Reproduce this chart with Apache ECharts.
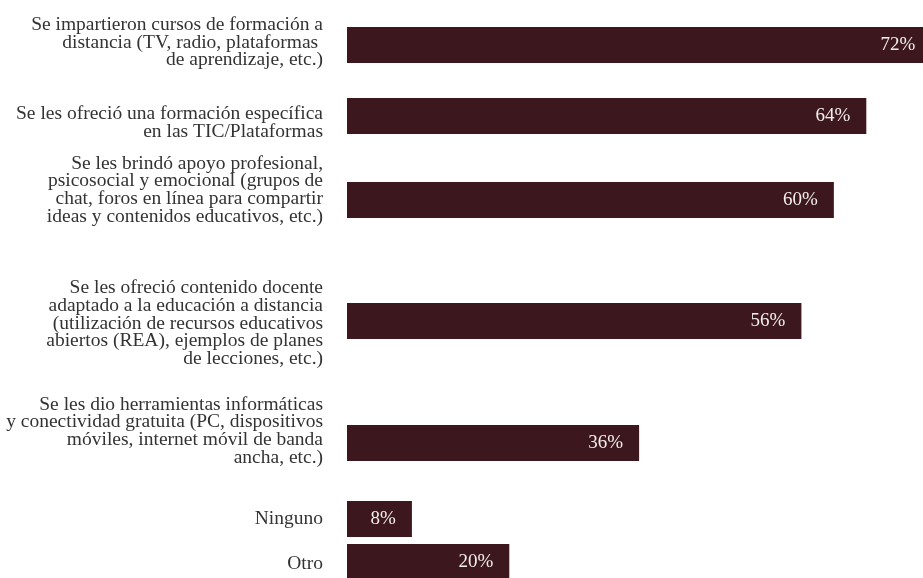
<!DOCTYPE html>
<html>
<head>
<meta charset="utf-8">
<script src="https://cdn.jsdelivr.net/npm/echarts@6/dist/echarts.min.js"></script>
<style>
  html, body { margin: 0; padding: 0; background: #fff; }
  #chart { width: 923px; height: 578px; }
</style>
</head>
<body>
<div id="chart"></div>
<script>
// Measures offered to teachers (share of responses, %)
const categories = [
  'Se impartieron cursos de formación a\ndistancia (TV, radio, plataformas \nde aprendizaje, etc.)',
  'Se les ofreció una formación específica\nen las TIC/Plataformas',
  'Se les brindó apoyo profesional,\npsicosocial y emocional (grupos de\nchat, foros en línea para compartir\nideas y contenidos educativos, etc.)',
  'Se les ofreció contenido docente\nadaptado a la educación a distancia\n(utilización de recursos educativos\nabiertos (REA), ejemplos de planes\nde lecciones, etc.)',
  'Se les dio herramientas informáticas\ny conectividad gratuita (PC, dispositivos\nmóviles, internet móvil de banda\nancha, etc.)',
  'Ninguno',
  'Otro'
];
const values = [72, 64, 60, 56, 36, 8, 20];

// Row layout: each bar sits in its own band; its text block floats beside it
const rowTop = [27, 98, 182, 303, 425, 501, 546];
const BAR_H = 36;
const labelShift = [-2.5, 7, -10, 2.5, -12, 0, 3];

const BAR_COLOR = '#3c181e';
const TEXT_COLOR = '#333333';
const FONT = '"Liberation Serif", "DejaVu Serif", serif';
const LEFT = 347, RIGHT = 8, X_MAX = 70;

const grids = [], xAxes = [], yAxes = [], series = [];
categories.forEach((cat, i) => {
  // bar row
  const g = grids.length;
  grids.push({ left: LEFT, right: RIGHT, top: rowTop[i], height: BAR_H });
  xAxes.push({ type: 'value', gridIndex: g, min: 0, max: X_MAX, show: false });
  yAxes.push({ type: 'category', gridIndex: g, data: [cat], show: false });
  series.push({
    type: 'bar', xAxisIndex: g, yAxisIndex: g, data: [values[i]],
    barWidth: BAR_H, clip: false, silent: true,
    itemStyle: { color: BAR_COLOR },
    label: {
      show: true, position: 'insideRight', offset: [-11, 0],
      formatter: '{c}%', color: '#f4eeee', fontSize: 19, fontFamily: FONT
    }
  });
  // category text for the row
  const t = grids.length;
  grids.push({ left: LEFT, right: RIGHT, top: rowTop[i] + labelShift[i], height: BAR_H });
  xAxes.push({ type: 'value', gridIndex: t, min: 0, max: X_MAX, show: false });
  yAxes.push({
    type: 'category', gridIndex: t, data: [cat],
    axisLine: { show: false }, axisTick: { show: false }, splitLine: { show: false },
    axisLabel: {
      margin: 24, fontSize: 19.5, lineHeight: 17.7, color: TEXT_COLOR,
      fontFamily: FONT, align: 'right'
    }
  });
});

const chart = echarts.init(document.getElementById('chart'), null, { renderer: 'canvas' });
chart.setOption({
  animation: false,
  backgroundColor: '#ffffff',
  grid: grids, xAxis: xAxes, yAxis: yAxes, series: series
});
</script>
</body>
</html>
